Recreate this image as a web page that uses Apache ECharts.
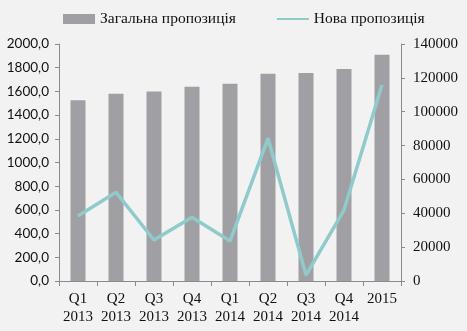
<!DOCTYPE html>
<html>
<head>
<meta charset="utf-8">
<script src="https://cdn.jsdelivr.net/npm/echarts@6/dist/echarts.min.js"></script>
<style>
  html, body { margin: 0; padding: 0; background: #f2f2f2; }
  #chart { width: 467px; height: 331px; }
</style>
</head>
<body>
<div id="chart"></div>
<script>
// Periods on the category axis
const periods = ['Q1\n2013', 'Q2\n2013', 'Q3\n2013', 'Q4\n2013', 'Q1\n2014', 'Q2\n2014', 'Q3\n2014', 'Q4\n2014', '2015'];
// Total supply (left axis)
const totalSupply = [1525, 1580, 1600, 1640, 1665, 1750, 1755, 1790, 1910];
// New supply (right axis)
const newSupply = [38400, 52400, 24200, 37600, 23600, 84300, 3500, 41900, 115800];

const serif = '"Liberation Serif", "DejaVu Serif", serif';
const sans = 'Lato, "Liberation Sans", sans-serif';
const axisGray = '#8a8a8a';
const textColor = '#111';

const chart = echarts.init(document.getElementById('chart'));
chart.setOption({
  backgroundColor: '#f2f2f2',
  animation: false,
  legend: {
    top: 6,
    left: 58,
    itemGap: 40,
    itemWidth: 32,
    itemHeight: 10,
    textStyle: { fontFamily: serif, fontSize: 15.5, color: textColor },
    data: [
      { name: 'Загальна пропозиція', icon: 'rect' },
      { name: 'Нова пропозиція', itemStyle: { opacity: 0 } }
    ]
  },
  grid: { left: 59, right: 66, top: 44, bottom: 50 },
  xAxis: {
    type: 'category',
    data: periods,
    axisLine: { lineStyle: { color: axisGray } },
    axisTick: { show: true, lineStyle: { color: axisGray } },
    axisLabel: { interval: 0, fontFamily: serif, fontSize: 15, color: textColor, lineHeight: 18, margin: 9 }
  },
  yAxis: [
    {
      type: 'value',
      min: 0, max: 2000, interval: 200,
      axisLine: { show: true, lineStyle: { color: axisGray } },
      axisTick: { show: true, length: 4, lineStyle: { color: axisGray } },
      splitLine: { show: false },
      axisLabel: {
        fontFamily: sans, fontSize: 13.5, color: textColor, margin: 10,
        formatter: v => v.toFixed(1).replace('.', ',')
      }
    },
    {
      type: 'value',
      min: 0, max: 140000, interval: 20000,
      axisLine: { show: true, lineStyle: { color: axisGray } },
      axisTick: { show: true, length: 4, lineStyle: { color: axisGray } },
      splitLine: { show: false },
      axisLabel: { fontFamily: serif, fontSize: 15, color: textColor, margin: 12, formatter: v => String(v) }
    }
  ],
  series: [
    {
      name: 'Загальна пропозиція',
      type: 'bar',
      data: totalSupply,
      barWidth: 15,
      itemStyle: { color: '#a09fa4' }
    },
    {
      name: 'Нова пропозиція',
      type: 'line',
      yAxisIndex: 1,
      data: newSupply,
      symbol: 'none',
      lineStyle: { color: '#8fcbcb', width: 3.5 },
      itemStyle: { color: '#8fcbcb' }
    }
  ]
});
</script>
</body>
</html>
